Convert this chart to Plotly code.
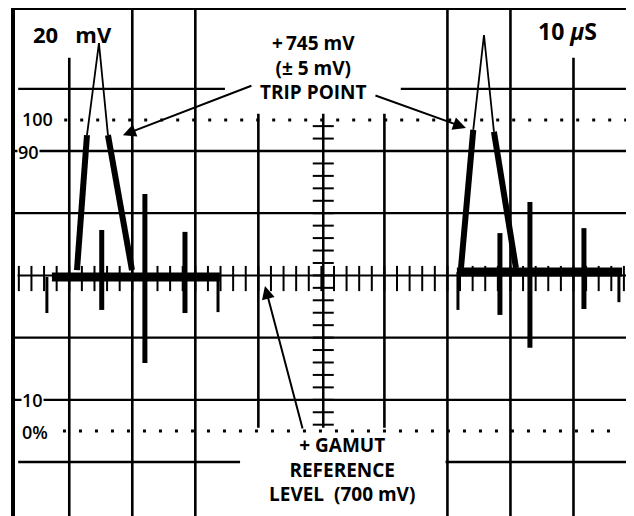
import plotly.graph_objects as go

# scope settings: 10 us/div across, 20 mV/div up, centre line = +700 mV
X_RANGE = [-48.61, 48.65]
Y_RANGE = [622.64, 785.34]

# graticule verticals (us) and how far each one is drawn (mV)
grid_v_us = [-40, -30, -20, -10, 10, 20, 30, 40]
grid_v_top = [770, 790, 790, 752, 752, 790, 790, 770]
grid_v_bot = [620, 620, 620, 651, 651, 620, 620, 620]

# graticule horizontals (mV), split where the captions sit
grid_h_mv = [760, 760, 740, 720, 680, 660, 640, 640]
grid_h_from = [-48.1, 12.6, -49, -49, -49, -49, -48.1, 19.7]
grid_h_to = [-15.3, 49, 49, 49, 49, 49, -12.9, 49]

# dotted 100 % / 0 % levels
ref_mv = [750, 650]
ref_from = [-40.8, -41.0]
ref_to = [48.6, 45.9]

# centre axis minor ticks
tick_us = list(range(-48, 49, 2))
tick_mv = list(range(652, 749, 4))

# waveform baseline runs
base_from = [-42.75, 21.5]
base_to = [-16.1, 47.7]
base_mv = [699.5, 701.1]

# pulses: rising edge, tip, falling edge
pulse1_us = [-38.78, -37.19, -35.29, -33.86, -30.05]
pulse1_mv = [701.7, 745.1, 774.7, 745.1, 701.7]
pulse2_us = [22.15, 24.1, 25.8, 27.38, 30.87]
pulse2_mv = [702.4, 746.8, 777.3, 746.2, 702.4]

# noise spikes on the baseline
spike_us = [-34.85, -28.0, -21.64, 28.33, 33.09, 41.66]
spike_top = [714.6, 726.2, 714.0, 713.6, 723.6, 715.2]
spike_bot = [688.9, 671.8, 687.9, 687.3, 676.7, 689.2]
# droops at the ends of each baseline run
droop_us = [-43.55, -16.4, 21.67, 47.21]
droop_top = [699.5, 699.5, 701.1, 701.1]
droop_bot = [687.9, 688.2, 688.9, 691.4]


def segs(x0, x1, y0, y1):
    xs, ys = [], []
    for a, b, c, d in zip(x0, x1, y0, y1):
        xs += [a, b, None]
        ys += [c, d, None]
    return xs, ys


fig = go.Figure()


def add_line(xs, ys, width, dash="solid"):
    fig.add_trace(
        go.Scatter(
            x=xs,
            y=ys,
            mode="lines",
            line=dict(color="black", width=width, dash=dash),
            showlegend=False,
            hoverinfo="skip",
        )
    )


# graticule
add_line(*segs(grid_v_us, grid_v_us, grid_v_top, grid_v_bot), 2.6)
add_line(*segs(grid_h_from, grid_h_to, grid_h_mv, grid_h_mv), 2.3)
add_line(*segs(ref_from, ref_to, ref_mv, ref_mv), 3, dash="3px,13px")

# centre axes with ticks
add_line([-48.2, 49], [700, 700], 2)
add_line([0.3, 0.3], [651, 752], 2.5)
fig.add_trace(
    go.Scatter(
        x=tick_us,
        y=[699] * len(tick_us),
        mode="markers",
        marker=dict(symbol="line-ns", size=18, line=dict(color="black", width=2)),
        showlegend=False,
        hoverinfo="skip",
    )
)
fig.add_trace(
    go.Scatter(
        x=[0.3] * len(tick_mv),
        y=tick_mv,
        mode="markers",
        marker=dict(symbol="line-ew", size=15, line=dict(color="black", width=2)),
        showlegend=False,
        hoverinfo="skip",
    )
)

# waveform
add_line(*segs(base_from, base_to, base_mv, base_mv), 9)
add_line(*segs(spike_us, spike_us, spike_top, spike_bot), 5)
add_line(*segs(droop_us, droop_us, droop_top, droop_bot), 3)
for pu, pm in [(pulse1_us, pulse1_mv), (pulse2_us, pulse2_mv)]:
    add_line(pu[:2], pm[:2], 6)
    add_line(pu[1:4], pm[1:4], 1.8)
    add_line(pu[3:], pm[3:], 6)

FONT = "Open Sans"
annotations = [
    dict(x=-39.5, y=777.6, text="<b>20\u00a0\u00a0\u00a0mV</b>", font=dict(size=22)),
    dict(x=39.1, y=778.6, text="<b>10 <i>\u03bc</i>S</b>", font=dict(size=23)),
    dict(
        x=-1.2,
        y=767.0,
        text="<b>+\u2009745 mV<br>(\u00b1 5 mV)<br>TRIP POINT</b>",
        font=dict(size=19),
    ),
    dict(
        x=3.3,
        y=637.7,
        text="<b>+ GAMUT<br>REFERENCE<br>LEVEL\u00a0\u00a0(700 mV)</b>",
        font=dict(size=19),
    ),
    dict(x=-45.1, y=750.3, text="100", font=dict(size=18, weight=600), bgcolor="white"),
    dict(x=-46.4, y=739.7, text="90", font=dict(size=18, weight=600), bgcolor="white"),
    dict(x=-45.9, y=660.0, text="10", font=dict(size=18, weight=600), bgcolor="white"),
    dict(x=-45.4, y=649.6, text="0%", font=dict(size=18, weight=600), bgcolor="white"),
]
for a in annotations:
    a.update(showarrow=False, xanchor="center", yanchor="middle", borderpad=0)
    a["font"].update(family=FONT, color="black")

arrows = [
    dict(x=-31.49, y=745.1, ax=130, ay=-50),
    dict(x=22.94, y=747.4, ax=-92, ay=-33),
    dict(x=-8.95, y=696.6, ax=38, ay=144),
]
for a in arrows:
    a.update(
        text="",
        showarrow=True,
        arrowhead=2,
        arrowsize=1.3,
        arrowwidth=2,
        arrowcolor="black",
        standoff=0,
    )

# the page adds an 8px body margin, so the figure is 8px smaller than the window
fig.update_layout(
    width=626,
    height=508,
    margin=dict(l=7, r=6, t=2, b=0),
    paper_bgcolor="white",
    plot_bgcolor="white",
    annotations=annotations + arrows,
    xaxis=dict(
        range=X_RANGE,
        showgrid=False,
        zeroline=False,
        showticklabels=False,
        ticks="",
        showline=True,
        side="top",
        linecolor="black",
        linewidth=3,
    ),
    yaxis=dict(
        range=Y_RANGE,
        showgrid=False,
        zeroline=False,
        showticklabels=False,
        ticks="",
        showline=True,
        mirror=True,
        linecolor="black",
        linewidth=4,
    ),
)

fig.write_html("out.html")
